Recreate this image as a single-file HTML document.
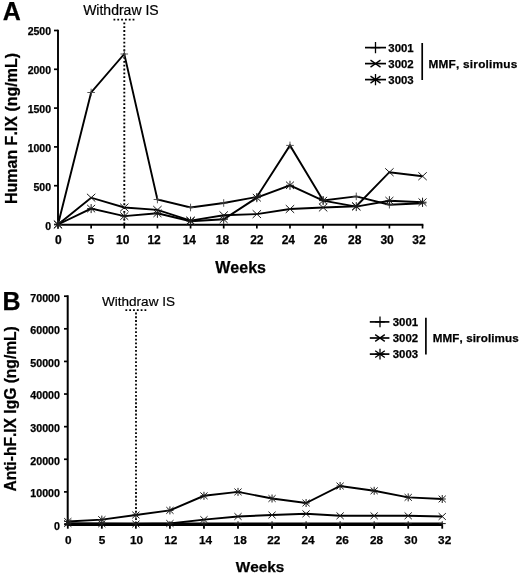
<!DOCTYPE html>
<html lang="en"><head><meta charset="utf-8"><title>Figure</title>
<style>html,body{margin:0;padding:0;background:#fff}svg{display:block;will-change:transform}text{font-family:"Liberation Sans",Arial,sans-serif;fill:#000;font-kerning:none}.r{stroke:#000;stroke-width:.2px}.b{font-weight:bold;stroke:#000;stroke-width:.25px}</style>
</head><body>
<svg width="520" height="574" viewBox="0 0 520 574">
<rect width="520" height="574" fill="#fff"/>
<g id="chartA">
<text class="b" x="2.7" y="19.5" font-size="25">A</text>
<text class="r" x="120.9" y="14.7" font-size="14" text-anchor="middle">Withdraw IS</text>
<path d="M113.5 19.6H135" stroke="#000" stroke-width="1.9" stroke-dasharray="1.8 2.02" fill="none"/>
<path d="M124.3 22.4V224" stroke="#000" stroke-width="1.9" stroke-dasharray="1.8 2.05" fill="none"/>
<path d="M58 29.8V224.8H423.3" stroke="#000" stroke-width="1.9" fill="none"/>
<path d="M54 224.5H58" stroke="#000" stroke-width="1.7"/>
<text class="b" x="51" y="229.8" font-size="10.5" text-anchor="end">0</text>
<path d="M54 185.7H58" stroke="#000" stroke-width="1.7"/>
<text class="b" x="51" y="190.86" font-size="10.5" text-anchor="end">500</text>
<path d="M54 146.9H58" stroke="#000" stroke-width="1.7"/>
<text class="b" x="51" y="151.92" font-size="10.5" text-anchor="end">1000</text>
<path d="M54 108.1H58" stroke="#000" stroke-width="1.7"/>
<text class="b" x="51" y="112.98" font-size="10.5" text-anchor="end">1500</text>
<path d="M54 69.3H58" stroke="#000" stroke-width="1.7"/>
<text class="b" x="51" y="74.04" font-size="10.5" text-anchor="end">2000</text>
<path d="M54 30.5H58" stroke="#000" stroke-width="1.7"/>
<text class="b" x="51" y="35.1" font-size="10.5" text-anchor="end">2500</text>
<path d="M58 224.5V228.5" stroke="#000" stroke-width="1.7"/>
<text class="b" x="58.4" y="243.8" font-size="12" text-anchor="middle">0</text>
<path d="M91.14 224.5V228.5" stroke="#000" stroke-width="1.7"/>
<text class="b" x="90.94" y="243.8" font-size="12" text-anchor="middle">5</text>
<path d="M124.28 224.5V228.5" stroke="#000" stroke-width="1.7"/>
<text class="b" x="122.68" y="243.8" font-size="12" text-anchor="middle">10</text>
<path d="M157.42 224.5V228.5" stroke="#000" stroke-width="1.7"/>
<text class="b" x="154.12" y="243.8" font-size="12" text-anchor="middle">12</text>
<path d="M190.56 224.5V228.5" stroke="#000" stroke-width="1.7"/>
<text class="b" x="189.36" y="243.8" font-size="12" text-anchor="middle">14</text>
<path d="M223.7 224.5V228.5" stroke="#000" stroke-width="1.7"/>
<text class="b" x="222.4" y="243.8" font-size="12" text-anchor="middle">18</text>
<path d="M256.84 224.5V228.5" stroke="#000" stroke-width="1.7"/>
<text class="b" x="256.84" y="243.8" font-size="12" text-anchor="middle">22</text>
<path d="M289.98 224.5V228.5" stroke="#000" stroke-width="1.7"/>
<text class="b" x="288.38" y="243.8" font-size="12" text-anchor="middle">24</text>
<path d="M323.12 224.5V228.5" stroke="#000" stroke-width="1.7"/>
<text class="b" x="320.72" y="243.8" font-size="12" text-anchor="middle">26</text>
<path d="M356.26 224.5V228.5" stroke="#000" stroke-width="1.7"/>
<text class="b" x="354.66" y="243.8" font-size="12" text-anchor="middle">28</text>
<path d="M389.4 224.5V228.5" stroke="#000" stroke-width="1.7"/>
<text class="b" x="387.1" y="243.8" font-size="12" text-anchor="middle">30</text>
<path d="M422.54 224.5V228.5" stroke="#000" stroke-width="1.7"/>
<text class="b" x="418.94" y="243.8" font-size="12" text-anchor="middle">32</text>
<text class="b" font-size="16" text-anchor="middle" transform="translate(16.7 128.5) rotate(-90)">Human F.IX (ng/mL)</text>
<text class="b" x="240.6" y="272.7" font-size="16" text-anchor="middle">Weeks</text>
<polyline points="58,224.5 91.14,92.5 124.28,54 157.42,199.5 190.56,207.5 223.7,203 256.84,197 289.98,145.4 323.12,200.4 356.26,196.4 389.4,204.7 422.54,203.2" fill="none" stroke="#000" stroke-width="1.9" stroke-linejoin="miter"/>
<polyline points="58,224.5 91.14,197.7 124.28,207.5 157.42,209.9 190.56,220.6 223.7,215.3 256.84,214.1 289.98,209 323.12,207.5 356.26,206.2 389.4,172.2 422.54,176.2" fill="none" stroke="#000" stroke-width="1.9" stroke-linejoin="miter"/>
<polyline points="58,224.5 91.14,208.6 124.28,216.1 157.42,213.3 190.56,221.2 223.7,219.3 256.84,197.7 289.98,185.3 323.12,200.6 356.26,206.6 389.4,200.7 422.54,202.2" fill="none" stroke="#000" stroke-width="1.9" stroke-linejoin="miter"/>
<path d="M54.2 224.5H61.8M58 220.7V228.3" stroke="#444" stroke-width="0.9" fill="none"/>
<path d="M87.34 92.5H94.94M91.14 88.7V96.3" stroke="#444" stroke-width="0.9" fill="none"/>
<path d="M120.48 54H128.08M124.28 50.2V57.8" stroke="#444" stroke-width="0.9" fill="none"/>
<path d="M153.62 199.5H161.22M157.42 195.7V203.3" stroke="#444" stroke-width="0.9" fill="none"/>
<path d="M186.76 207.5H194.36M190.56 203.7V211.3" stroke="#444" stroke-width="0.9" fill="none"/>
<path d="M219.9 203H227.5M223.7 199.2V206.8" stroke="#444" stroke-width="0.9" fill="none"/>
<path d="M253.04 197H260.64M256.84 193.2V200.8" stroke="#444" stroke-width="0.9" fill="none"/>
<path d="M286.18 145.4H293.78M289.98 141.6V149.2" stroke="#444" stroke-width="0.9" fill="none"/>
<path d="M319.32 200.4H326.92M323.12 196.6V204.2" stroke="#444" stroke-width="0.9" fill="none"/>
<path d="M352.46 196.4H360.06M356.26 192.6V200.2" stroke="#444" stroke-width="0.9" fill="none"/>
<path d="M385.6 204.7H393.2M389.4 200.9V208.5" stroke="#444" stroke-width="0.9" fill="none"/>
<path d="M418.74 203.2H426.34M422.54 199.4V207" stroke="#444" stroke-width="0.9" fill="none"/>
<path d="M53.8 220.59L62.2 228.41M53.8 228.41L62.2 220.59" stroke="#1c1c1c" stroke-width="1.0" fill="none"/>
<path d="M86.94 193.79L95.34 201.61M86.94 201.61L95.34 193.79" stroke="#1c1c1c" stroke-width="1.0" fill="none"/>
<path d="M120.08 203.59L128.48 211.41M120.08 211.41L128.48 203.59" stroke="#1c1c1c" stroke-width="1.0" fill="none"/>
<path d="M153.22 205.99L161.62 213.81M153.22 213.81L161.62 205.99" stroke="#1c1c1c" stroke-width="1.0" fill="none"/>
<path d="M186.36 216.69L194.76 224.51M186.36 224.51L194.76 216.69" stroke="#1c1c1c" stroke-width="1.0" fill="none"/>
<path d="M219.5 211.39L227.9 219.21M219.5 219.21L227.9 211.39" stroke="#1c1c1c" stroke-width="1.0" fill="none"/>
<path d="M252.64 210.19L261.04 218.01M252.64 218.01L261.04 210.19" stroke="#1c1c1c" stroke-width="1.0" fill="none"/>
<path d="M285.78 205.09L294.18 212.91M285.78 212.91L294.18 205.09" stroke="#1c1c1c" stroke-width="1.0" fill="none"/>
<path d="M318.92 203.59L327.32 211.41M318.92 211.41L327.32 203.59" stroke="#1c1c1c" stroke-width="1.0" fill="none"/>
<path d="M352.06 202.29L360.46 210.11M352.06 210.11L360.46 202.29" stroke="#1c1c1c" stroke-width="1.0" fill="none"/>
<path d="M385.2 168.29L393.6 176.11M385.2 176.11L393.6 168.29" stroke="#1c1c1c" stroke-width="1.0" fill="none"/>
<path d="M418.34 172.29L426.74 180.11M418.34 180.11L426.74 172.29" stroke="#1c1c1c" stroke-width="1.0" fill="none"/>
<path d="M54 220.78L62 228.22M54 228.22L62 220.78" stroke="#1c1c1c" stroke-width="1.0" fill="none"/><path d="M58 220V229M54 224.5H62" stroke="#1c1c1c" stroke-width="1.0" fill="none"/>
<path d="M87.14 204.88L95.14 212.32M87.14 212.32L95.14 204.88" stroke="#1c1c1c" stroke-width="1.0" fill="none"/><path d="M91.14 204.1V213.1M87.14 208.6H95.14" stroke="#1c1c1c" stroke-width="1.0" fill="none"/>
<path d="M120.28 212.38L128.28 219.82M120.28 219.82L128.28 212.38" stroke="#1c1c1c" stroke-width="1.0" fill="none"/><path d="M124.28 211.6V220.6M120.28 216.1H128.28" stroke="#1c1c1c" stroke-width="1.0" fill="none"/>
<path d="M153.42 209.58L161.42 217.02M153.42 217.02L161.42 209.58" stroke="#1c1c1c" stroke-width="1.0" fill="none"/><path d="M157.42 208.8V217.8M153.42 213.3H161.42" stroke="#1c1c1c" stroke-width="1.0" fill="none"/>
<path d="M186.56 217.48L194.56 224.92M186.56 224.92L194.56 217.48" stroke="#1c1c1c" stroke-width="1.0" fill="none"/><path d="M190.56 216.7V225.7M186.56 221.2H194.56" stroke="#1c1c1c" stroke-width="1.0" fill="none"/>
<path d="M219.7 215.58L227.7 223.02M219.7 223.02L227.7 215.58" stroke="#1c1c1c" stroke-width="1.0" fill="none"/><path d="M223.7 214.8V223.8M219.7 219.3H227.7" stroke="#1c1c1c" stroke-width="1.0" fill="none"/>
<path d="M252.84 193.98L260.84 201.42M252.84 201.42L260.84 193.98" stroke="#1c1c1c" stroke-width="1.0" fill="none"/><path d="M256.84 193.2V202.2M252.84 197.7H260.84" stroke="#1c1c1c" stroke-width="1.0" fill="none"/>
<path d="M285.98 181.58L293.98 189.02M285.98 189.02L293.98 181.58" stroke="#1c1c1c" stroke-width="1.0" fill="none"/><path d="M289.98 180.8V189.8M285.98 185.3H293.98" stroke="#1c1c1c" stroke-width="1.0" fill="none"/>
<path d="M319.12 196.88L327.12 204.32M319.12 204.32L327.12 196.88" stroke="#1c1c1c" stroke-width="1.0" fill="none"/><path d="M323.12 196.1V205.1M319.12 200.6H327.12" stroke="#1c1c1c" stroke-width="1.0" fill="none"/>
<path d="M352.26 202.88L360.26 210.32M352.26 210.32L360.26 202.88" stroke="#1c1c1c" stroke-width="1.0" fill="none"/><path d="M356.26 202.1V211.1M352.26 206.6H360.26" stroke="#1c1c1c" stroke-width="1.0" fill="none"/>
<path d="M385.4 196.98L393.4 204.42M385.4 204.42L393.4 196.98" stroke="#1c1c1c" stroke-width="1.0" fill="none"/><path d="M389.4 196.2V205.2M385.4 200.7H393.4" stroke="#1c1c1c" stroke-width="1.0" fill="none"/>
<path d="M418.54 198.48L426.54 205.92M418.54 205.92L426.54 198.48" stroke="#1c1c1c" stroke-width="1.0" fill="none"/><path d="M422.54 197.7V206.7M418.54 202.2H426.54" stroke="#1c1c1c" stroke-width="1.0" fill="none"/>
<path d="M365 47.6H386" stroke="#000" stroke-width="1.7"/>
<path d="M370.5 47.6H380.5M375.5 42V53.2" stroke="#000" stroke-width="1.3" fill="none"/>
<text class="b" x="388.3" y="51.8" font-size="11.6" textLength="25.4" lengthAdjust="spacingAndGlyphs">3001</text>
<path d="M365 63.6H386" stroke="#000" stroke-width="1.7"/>
<path d="M370.5 60.1L380.5 67.1M370.5 67.1L380.5 60.1" stroke="#000" stroke-width="1.3" fill="none"/>
<text class="b" x="388.3" y="67.8" font-size="11.6" textLength="25.4" lengthAdjust="spacingAndGlyphs">3002</text>
<path d="M365 79.6H386" stroke="#000" stroke-width="1.7"/>
<path d="M370.5 76.1L380.5 83.1M370.5 83.1L380.5 76.1" stroke="#000" stroke-width="1.3" fill="none"/><path d="M375.5 74V85.2M370.5 79.6H380.5" stroke="#000" stroke-width="1.3" fill="none"/>
<text class="b" x="388.3" y="83.8" font-size="11.6" textLength="25.4" lengthAdjust="spacingAndGlyphs">3003</text>
<path d="M422.2 43V80" stroke="#000" stroke-width="1.7"/>
<text class="b" x="428.5" y="67.5" font-size="11.8" textLength="88.8" lengthAdjust="spacing">MMF, sirolimus</text>
</g>
<g id="chartB">
<text class="b" x="2.4" y="310.4" font-size="25">B</text>
<text class="r" x="138.5" y="305.8" font-size="13.55" text-anchor="middle">Withdraw IS</text>
<path d="M125.4 310.1H147" stroke="#000" stroke-width="1.8" stroke-dasharray="1.8 2.02" fill="none"/>
<path d="M136 312.6V524" stroke="#000" stroke-width="1.8" stroke-dasharray="1.8 1.94" fill="none"/>
<path d="M67.7 295.3V525.1H443" stroke="#000" stroke-width="2" fill="none"/>
<path d="M64 524.5H67.6" stroke="#000" stroke-width="1.7"/>
<text class="b" x="60" y="529.8" font-size="10.7" text-anchor="end">0</text>
<path d="M64 491.89H67.6" stroke="#000" stroke-width="1.7"/>
<text class="b" x="60" y="497.19" font-size="10.7" text-anchor="end">10000</text>
<path d="M64 459.27H67.6" stroke="#000" stroke-width="1.7"/>
<text class="b" x="60" y="464.57" font-size="10.7" text-anchor="end">20000</text>
<path d="M64 426.66H67.6" stroke="#000" stroke-width="1.7"/>
<text class="b" x="60" y="431.96" font-size="10.7" text-anchor="end">30000</text>
<path d="M64 394.04H67.6" stroke="#000" stroke-width="1.7"/>
<text class="b" x="60" y="399.34" font-size="10.7" text-anchor="end">40000</text>
<path d="M64 361.43H67.6" stroke="#000" stroke-width="1.7"/>
<text class="b" x="60" y="366.73" font-size="10.7" text-anchor="end">50000</text>
<path d="M64 328.81H67.6" stroke="#000" stroke-width="1.7"/>
<text class="b" x="60" y="334.11" font-size="10.7" text-anchor="end">60000</text>
<path d="M64 296.2H67.6" stroke="#000" stroke-width="1.7"/>
<text class="b" x="60" y="301.5" font-size="10.7" text-anchor="end">70000</text>
<path d="M67.8 524.5V528.7" stroke="#000" stroke-width="1.8"/>
<text class="b" x="68.3" y="543.8" font-size="11.8" text-anchor="middle">0</text>
<path d="M101.84 524.5V528.7" stroke="#000" stroke-width="1.8"/>
<text class="b" x="101.97" y="543.8" font-size="11.8" text-anchor="middle">5</text>
<path d="M135.88 524.5V528.7" stroke="#000" stroke-width="1.8"/>
<text class="b" x="136.64" y="543.8" font-size="11.8" text-anchor="middle">10</text>
<path d="M169.92 524.5V528.7" stroke="#000" stroke-width="1.8"/>
<text class="b" x="170.81" y="543.8" font-size="11.8" text-anchor="middle">12</text>
<path d="M203.96 524.5V528.7" stroke="#000" stroke-width="1.8"/>
<text class="b" x="205.58" y="543.8" font-size="11.8" text-anchor="middle">14</text>
<path d="M238 524.5V528.7" stroke="#000" stroke-width="1.8"/>
<text class="b" x="240.15" y="543.8" font-size="11.8" text-anchor="middle">18</text>
<path d="M272.04 524.5V528.7" stroke="#000" stroke-width="1.8"/>
<text class="b" x="273.82" y="543.8" font-size="11.8" text-anchor="middle">22</text>
<path d="M306.08 524.5V528.7" stroke="#000" stroke-width="1.8"/>
<text class="b" x="307.99" y="543.8" font-size="11.8" text-anchor="middle">24</text>
<path d="M340.12 524.5V528.7" stroke="#000" stroke-width="1.8"/>
<text class="b" x="342.36" y="543.8" font-size="11.8" text-anchor="middle">26</text>
<path d="M374.16 524.5V528.7" stroke="#000" stroke-width="1.8"/>
<text class="b" x="376.63" y="543.8" font-size="11.8" text-anchor="middle">28</text>
<path d="M408.2 524.5V528.7" stroke="#000" stroke-width="1.8"/>
<text class="b" x="410.9" y="543.8" font-size="11.8" text-anchor="middle">30</text>
<path d="M442.24 524.5V528.7" stroke="#000" stroke-width="1.8"/>
<text class="b" x="444.67" y="543.8" font-size="11.8" text-anchor="middle">32</text>
<text class="b" font-size="15.6" text-anchor="middle" transform="translate(16 408.9) rotate(-90)">Anti-hF.IX IgG (ng/mL)</text>
<text class="b" x="260" y="572" font-size="15.3" text-anchor="middle">Weeks</text>
<polyline points="67.8,523.6 101.84,523.6 135.88,523.6 169.92,523.6 203.96,523.6 238,523.6 272.04,523.6 306.08,523.6 340.12,523.6 374.16,523.6 408.2,523.6 442.24,523.6" fill="none" stroke="#000" stroke-width="2.2" stroke-linejoin="miter"/>
<polyline points="67.8,523.5 101.84,523.8 135.88,524 169.92,523.5 203.96,519.6 238,516.5 272.04,515 306.08,513.8 340.12,515.8 374.16,515.8 408.2,515.8 442.24,516.5" fill="none" stroke="#000" stroke-width="1.9" stroke-linejoin="miter"/>
<polyline points="67.8,521.5 101.84,519.6 135.88,515 169.92,510.4 203.96,495.8 238,491.9 272.04,498.5 306.08,503 340.12,486 374.16,490.8 408.2,497.4 442.24,499" fill="none" stroke="#000" stroke-width="1.9" stroke-linejoin="miter"/>
<path d="M64.3 523.6H71.3M67.8 521.2V526" stroke="#1c1c1c" stroke-width="1.0" fill="none"/>
<path d="M98.34 523.6H105.34M101.84 521.2V526" stroke="#1c1c1c" stroke-width="1.0" fill="none"/>
<path d="M132.38 523.6H139.38M135.88 521.2V526" stroke="#1c1c1c" stroke-width="1.0" fill="none"/>
<path d="M166.42 523.6H173.42M169.92 521.2V526" stroke="#1c1c1c" stroke-width="1.0" fill="none"/>
<path d="M200.46 523.6H207.46M203.96 521.2V526" stroke="#1c1c1c" stroke-width="1.0" fill="none"/>
<path d="M234.5 523.6H241.5M238 521.2V526" stroke="#1c1c1c" stroke-width="1.0" fill="none"/>
<path d="M268.54 523.6H275.54M272.04 521.2V526" stroke="#1c1c1c" stroke-width="1.0" fill="none"/>
<path d="M302.58 523.6H309.58M306.08 521.2V526" stroke="#1c1c1c" stroke-width="1.0" fill="none"/>
<path d="M336.62 523.6H343.62M340.12 521.2V526" stroke="#1c1c1c" stroke-width="1.0" fill="none"/>
<path d="M370.66 523.6H377.66M374.16 521.2V526" stroke="#1c1c1c" stroke-width="1.0" fill="none"/>
<path d="M404.7 523.6H411.7M408.2 521.2V526" stroke="#1c1c1c" stroke-width="1.0" fill="none"/>
<path d="M438.74 523.6H445.74M442.24 521.2V526" stroke="#1c1c1c" stroke-width="1.0" fill="none"/>
<path d="M64.2 520.15L71.4 526.85M64.2 526.85L71.4 520.15" stroke="#1c1c1c" stroke-width="1.0" fill="none"/>
<path d="M98.24 520.45L105.44 527.15M98.24 527.15L105.44 520.45" stroke="#1c1c1c" stroke-width="1.0" fill="none"/>
<path d="M132.28 520.65L139.48 527.35M132.28 527.35L139.48 520.65" stroke="#1c1c1c" stroke-width="1.0" fill="none"/>
<path d="M166.32 520.15L173.52 526.85M166.32 526.85L173.52 520.15" stroke="#1c1c1c" stroke-width="1.0" fill="none"/>
<path d="M200.36 516.25L207.56 522.95M200.36 522.95L207.56 516.25" stroke="#1c1c1c" stroke-width="1.0" fill="none"/>
<path d="M234.4 513.15L241.6 519.85M234.4 519.85L241.6 513.15" stroke="#1c1c1c" stroke-width="1.0" fill="none"/>
<path d="M268.44 511.65L275.64 518.35M268.44 518.35L275.64 511.65" stroke="#1c1c1c" stroke-width="1.0" fill="none"/>
<path d="M302.48 510.45L309.68 517.15M302.48 517.15L309.68 510.45" stroke="#1c1c1c" stroke-width="1.0" fill="none"/>
<path d="M336.52 512.45L343.72 519.15M336.52 519.15L343.72 512.45" stroke="#1c1c1c" stroke-width="1.0" fill="none"/>
<path d="M370.56 512.45L377.76 519.15M370.56 519.15L377.76 512.45" stroke="#1c1c1c" stroke-width="1.0" fill="none"/>
<path d="M404.6 512.45L411.8 519.15M404.6 519.15L411.8 512.45" stroke="#1c1c1c" stroke-width="1.0" fill="none"/>
<path d="M438.64 513.15L445.84 519.85M438.64 519.85L445.84 513.15" stroke="#1c1c1c" stroke-width="1.0" fill="none"/>
<path d="M64.2 518.15L71.4 524.85M64.2 524.85L71.4 518.15" stroke="#1c1c1c" stroke-width="1.0" fill="none"/><path d="M67.8 517.5V525.5M64.2 521.5H71.4" stroke="#1c1c1c" stroke-width="1.0" fill="none"/>
<path d="M98.24 516.25L105.44 522.95M98.24 522.95L105.44 516.25" stroke="#1c1c1c" stroke-width="1.0" fill="none"/><path d="M101.84 515.6V523.6M98.24 519.6H105.44" stroke="#1c1c1c" stroke-width="1.0" fill="none"/>
<path d="M132.28 511.65L139.48 518.35M132.28 518.35L139.48 511.65" stroke="#1c1c1c" stroke-width="1.0" fill="none"/><path d="M135.88 511V519M132.28 515H139.48" stroke="#1c1c1c" stroke-width="1.0" fill="none"/>
<path d="M166.32 507.05L173.52 513.75M166.32 513.75L173.52 507.05" stroke="#1c1c1c" stroke-width="1.0" fill="none"/><path d="M169.92 506.4V514.4M166.32 510.4H173.52" stroke="#1c1c1c" stroke-width="1.0" fill="none"/>
<path d="M200.36 492.45L207.56 499.15M200.36 499.15L207.56 492.45" stroke="#1c1c1c" stroke-width="1.0" fill="none"/><path d="M203.96 491.8V499.8M200.36 495.8H207.56" stroke="#1c1c1c" stroke-width="1.0" fill="none"/>
<path d="M234.4 488.55L241.6 495.25M234.4 495.25L241.6 488.55" stroke="#1c1c1c" stroke-width="1.0" fill="none"/><path d="M238 487.9V495.9M234.4 491.9H241.6" stroke="#1c1c1c" stroke-width="1.0" fill="none"/>
<path d="M268.44 495.15L275.64 501.85M268.44 501.85L275.64 495.15" stroke="#1c1c1c" stroke-width="1.0" fill="none"/><path d="M272.04 494.5V502.5M268.44 498.5H275.64" stroke="#1c1c1c" stroke-width="1.0" fill="none"/>
<path d="M302.48 499.65L309.68 506.35M302.48 506.35L309.68 499.65" stroke="#1c1c1c" stroke-width="1.0" fill="none"/><path d="M306.08 499V507M302.48 503H309.68" stroke="#1c1c1c" stroke-width="1.0" fill="none"/>
<path d="M336.52 482.65L343.72 489.35M336.52 489.35L343.72 482.65" stroke="#1c1c1c" stroke-width="1.0" fill="none"/><path d="M340.12 482V490M336.52 486H343.72" stroke="#1c1c1c" stroke-width="1.0" fill="none"/>
<path d="M370.56 487.45L377.76 494.15M370.56 494.15L377.76 487.45" stroke="#1c1c1c" stroke-width="1.0" fill="none"/><path d="M374.16 486.8V494.8M370.56 490.8H377.76" stroke="#1c1c1c" stroke-width="1.0" fill="none"/>
<path d="M404.6 494.05L411.8 500.75M404.6 500.75L411.8 494.05" stroke="#1c1c1c" stroke-width="1.0" fill="none"/><path d="M408.2 493.4V501.4M404.6 497.4H411.8" stroke="#1c1c1c" stroke-width="1.0" fill="none"/>
<path d="M438.64 495.65L445.84 502.35M438.64 502.35L445.84 495.65" stroke="#1c1c1c" stroke-width="1.0" fill="none"/><path d="M442.24 495V503M438.64 499H445.84" stroke="#1c1c1c" stroke-width="1.0" fill="none"/>
<path d="M369.8 321.9H389.4" stroke="#000" stroke-width="1.7"/>
<path d="M375.2 321.9H384.8M380 316.5V327.3" stroke="#000" stroke-width="1.3" fill="none"/>
<text class="b" x="392.7" y="326.1" font-size="11.6" textLength="25.4" lengthAdjust="spacingAndGlyphs">3001</text>
<path d="M369.8 338H389.4" stroke="#000" stroke-width="1.7"/>
<path d="M375.2 334.6L384.8 341.4M375.2 341.4L384.8 334.6" stroke="#000" stroke-width="1.3" fill="none"/>
<text class="b" x="392.7" y="342.2" font-size="11.6" textLength="25.4" lengthAdjust="spacingAndGlyphs">3002</text>
<path d="M369.8 354.1H389.4" stroke="#000" stroke-width="1.7"/>
<path d="M375.2 350.7L384.8 357.5M375.2 357.5L384.8 350.7" stroke="#000" stroke-width="1.3" fill="none"/><path d="M380 348.7V359.5M375.2 354.1H384.8" stroke="#000" stroke-width="1.3" fill="none"/>
<text class="b" x="392.7" y="358.3" font-size="11.6" textLength="25.4" lengthAdjust="spacingAndGlyphs">3003</text>
<path d="M425.9 317.8V354.6" stroke="#000" stroke-width="1.7"/>
<text class="b" x="432.7" y="341.8" font-size="11.6" textLength="86" lengthAdjust="spacing">MMF, sirolimus</text>
</g>
</svg></body></html>
